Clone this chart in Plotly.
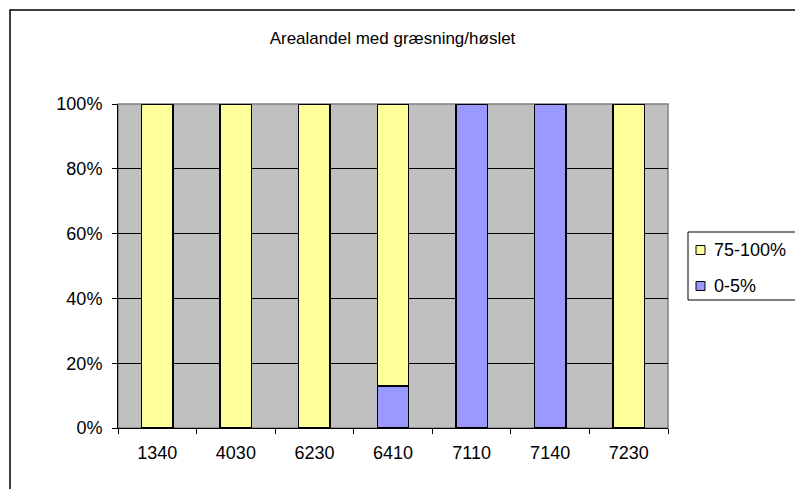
import plotly.graph_objects as go

categories = ["1340", "4030", "6230", "6410", "7110", "7140", "7230"]
share_0_5 = [0, 0, 0, 13, 100, 100, 0]
share_75_100 = [100, 100, 100, 87, 0, 0, 100]
y_ticks = [0, 20, 40, 60, 80, 100]
y_tick_labels = [f"{v}%" for v in y_ticks]

series = [
    # (name, values, fill) in stacking order, bottom first
    ("0-5%", share_0_5, "#9999FF"),
    ("75-100%", share_75_100, "#FFFF99"),
]

W, H = 795, 489
L, R, T, B = 118, 127, 104, 61
pw, ph = W - L - R, H - T - B


def px(x):
    return (x - L) / pw


def py(y):
    return (H - B - y) / ph


FONT = "Liberation Sans, Arial, sans-serif"
fig = go.Figure()
for name, vals, color in series:
    fig.add_trace(go.Bar(
        x=categories, y=vals, name=name, showlegend=False,
        marker=dict(color=color, line=dict(color="black", width=1.5)),
    ))

shapes = [
    # grey frame around the plot area
    dict(type="rect", xref="paper", yref="paper", x0=0, x1=1, y0=0, y1=1,
         line=dict(color="#808080", width=1.5), layer="below"),
    # outer chart border
    dict(type="rect", xref="paper", yref="paper",
         x0=px(10), x1=px(W + 20), y0=py(H + 20), y1=py(10),
         line=dict(color="black", width=1.5), fillcolor="rgba(0,0,0,0)"),
    # legend box
    dict(type="rect", xref="paper", yref="paper",
         x0=px(688), x1=px(W + 5), y0=py(300), y1=py(232),
         line=dict(color="black", width=1), fillcolor="white"),
]
annotations = []
# legend entries, top entry is the upper series
for i, (name, vals, color) in enumerate(reversed(series)):
    cy = 250 + 36 * i
    shapes.append(dict(type="rect", xref="paper", yref="paper",
                       x0=px(696), x1=px(705), y0=py(cy + 4.5), y1=py(cy - 4.5),
                       line=dict(color="black", width=1), fillcolor=color))
    annotations.append(dict(text=name, xref="paper", yref="paper",
                            x=px(712), y=py(cy), xanchor="left", yanchor="middle",
                            showarrow=False, font=dict(family=FONT, size=18, color="black")))

fig.update_layout(
    width=W, height=H,
    margin=dict(l=L, r=R, t=T, b=B),
    paper_bgcolor="white",
    plot_bgcolor="#C0C0C0",
    barmode="stack",
    bargap=0.6,
    font=dict(family=FONT, size=18, color="black"),
    showlegend=False,
    title=dict(text="Arealandel med græsning/høslet", x=392.5 / W, xanchor="center",
               y=1 - 38 / H, yanchor="middle", font=dict(size=17)),
    xaxis=dict(
        type="category", showgrid=False, showline=True, linecolor="black",
        linewidth=1, ticks="outside", tickson="boundaries", ticklen=5,
        tickcolor="black", tickfont=dict(size=18), ticklabelstandoff=8,
    ),
    yaxis=dict(
        range=[0, 100], tickvals=y_ticks, ticktext=y_tick_labels, showgrid=True,
        gridcolor="black", gridwidth=1, showline=True, linecolor="black",
        linewidth=1, ticks="outside", ticklen=5, tickcolor="black",
        zeroline=False, tickfont=dict(size=18), ticklabelstandoff=6,
    ),
    shapes=shapes,
    annotations=annotations,
)

fig.write_html("out.html")
